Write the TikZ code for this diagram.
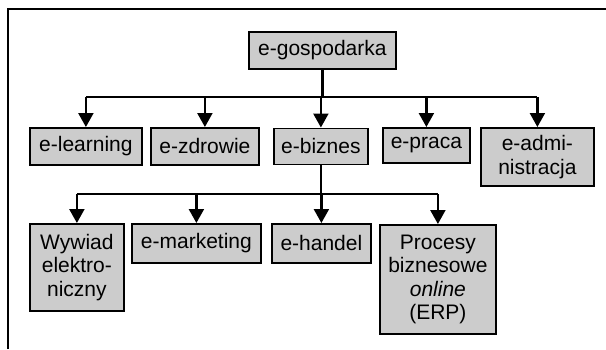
\documentclass[tikz,border=0pt]{standalone}
\usepackage{fontspec}
\setmainfont{Liberation Sans}
\usetikzlibrary{arrows.meta}
\tikzset{
  box/.style={draw=black, line width=1.8pt, fill=boxgray, align=center,
    inner sep=0pt, anchor=north west,
    font=\fontsize{21}{23.5}\selectfont},
  link/.style={line width=2.2pt, draw=black},
  arr/.style={link, -{Triangle[length=14pt,width=15pt]}},
  frameline/.style={line width=2pt, draw=black}
}
\definecolor{boxgray}{RGB}{204,204,204}
\begin{document}
\begin{tikzpicture}[x=1pt,y=-1pt]
\useasboundingbox (0,0) rectangle (606,349);
% frame (top and left edges)
\draw[frameline] (8,349) -- (8,9) -- (606,9);

% root
\node[box, minimum width=147pt, minimum height=37pt] (gosp) at (248,31) {e-gospodarka};

% first level
\node[box, minimum width=112pt, minimum height=37pt] (learn) at (29,127) {e-learning};
\node[box, minimum width=108pt, minimum height=37pt] (zdrow) at (150,127) {e-zdrowie};
\node[box, minimum width=94pt, minimum height=36pt] (bizn) at (273,127.5) {e-biznes};
\node[box, minimum width=87pt, minimum height=35pt] (praca) at (382,127) {\raisebox{3pt}{e-praca}};
\node[box, minimum width=113pt, minimum height=58pt] (admin) at (480,127) {e-admi-\\nistracja};

% second level
\node[box, minimum width=94pt, minimum height=87pt] (wyw) at (29,223) {Wywiad\\elektro-\\niczny};
\node[box, minimum width=129pt, minimum height=39pt] (mark) at (131,223) {e-marketing};
\node[box, minimum width=99pt, minimum height=39pt] (hand) at (271,223) {e-handel};
\node[box, minimum width=116pt, minimum height=109pt] (proc) at (379,224) {Procesy\\biznesowe\\\textit{online}\\(ERP)};

% bus levels
\coordinate (bus1) at (0,97);
\coordinate (bus2) at (0,194);

% connectors, first level
\draw[link] (gosp.south) -- (gosp.south |- bus1);
\draw[link] (learn.north |- bus1) -- (admin.north |- bus1);
\foreach \n in {learn,zdrow,bizn,praca,admin}
  \draw[arr] (\n.north |- bus1) -- (\n.north);

% connectors, second level
\draw[link] (bizn.south) -- (bizn.south |- bus2);
\draw[link] (wyw.north |- bus2) -- (proc.north |- bus2);
\foreach \n in {wyw,mark,hand,proc}
  \draw[arr] (\n.north |- bus2) -- (\n.north);
\end{tikzpicture}
\end{document}
